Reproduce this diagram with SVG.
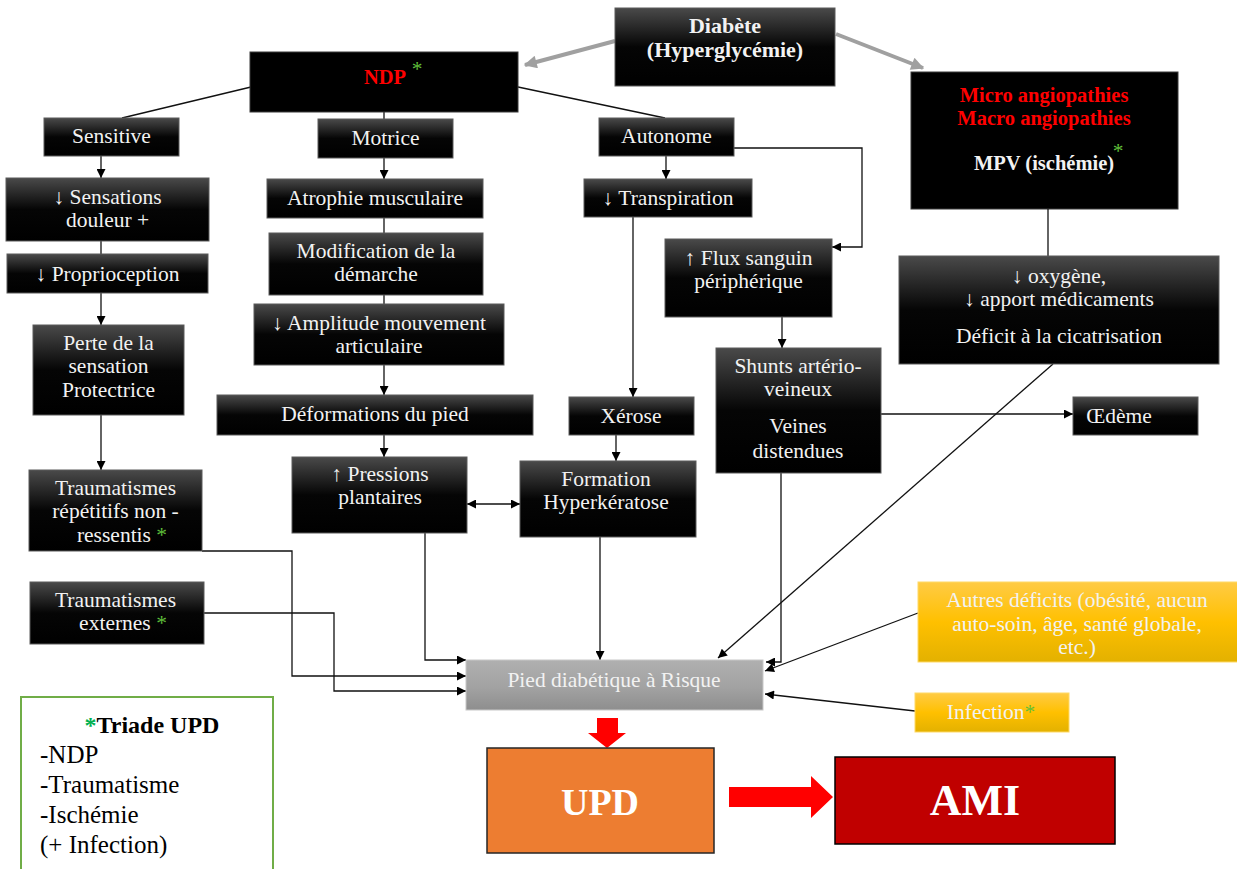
<svg xmlns="http://www.w3.org/2000/svg" width="1237" height="869" viewBox="0 0 1237 869">
<defs>
<linearGradient id="gb" x1="0" y1="0" x2="0" y2="1">
<stop offset="0" stop-color="#4a4a4a"/>
<stop offset="0.5" stop-color="#050505"/>
<stop offset="1" stop-color="#000"/>
</linearGradient>
<linearGradient id="gg" x1="0" y1="0" x2="0" y2="1">
<stop offset="0" stop-color="#b0b0b0"/>
<stop offset="0.55" stop-color="#a2a2a2"/>
<stop offset="1" stop-color="#8e8e8e"/>
</linearGradient>
<linearGradient id="gy" x1="0" y1="0" x2="0" y2="1">
<stop offset="0" stop-color="#ffcb45"/>
<stop offset="0.5" stop-color="#ffc000"/>
<stop offset="1" stop-color="#e3b100"/>
</linearGradient>
<marker id="a" viewBox="0 0 10 10" refX="10" refY="5" markerWidth="10" markerHeight="9" markerUnits="userSpaceOnUse" orient="auto-start-reverse">
<path d="M0,0 L10,5 L0,10 z" fill="#000"/>
</marker>
<marker id="ga" viewBox="0 0 10 10" refX="9" refY="5" markerWidth="15" markerHeight="13" markerUnits="userSpaceOnUse" orient="auto">
<path d="M0,0 L10,5 L0,10 z" fill="#a0a0a0"/>
</marker>
<style>
.bx{fill:url(#gb);stroke:#5a5a5a;stroke-width:1}
.bk{fill:#000;stroke:#3a3a3a;stroke-width:1}
.t{font-size:21.5px;fill:#f2f2f2;text-anchor:middle}
.b{font-weight:bold;font-size:20.5px}
.red{fill:#ff0000}
.st{fill:#5fbf3a}
.c{fill:none;stroke:#111;stroke-width:1.3}
.ca{fill:none;stroke:#111;stroke-width:1.3;marker-end:url(#a)}
.gr{fill:none;stroke:#a0a0a0;stroke-width:4;marker-end:url(#ga)}
.tb{font-size:25px;fill:#000}
</style>
</defs>
<rect width="1237" height="869" fill="#fff"/>

<g id="connectors">
<path class="gr" d="M615,41 L525,65"/>
<path class="gr" d="M836,34 L923,68"/>
<path class="c" d="M251,87 L122,118"/>
<path class="c" d="M384,112 V119"/>
<path class="c" d="M518,87 L665,118"/>
<path class="ca" d="M101,156 V178"/>
<path class="c" d="M101,241 V254"/>
<path class="ca" d="M101,293 V325"/>
<path class="ca" d="M101,415 V470"/>
<path class="ca" d="M384,158 V179"/>
<path class="c" d="M384,218 V233"/>
<path class="c" d="M384,295 V304"/>
<path class="ca" d="M384,365 V395"/>
<path class="ca" d="M384,435 V457"/>
<path class="ca" d="M666,156 V179"/>
<path class="ca" d="M734,148 H862 V247 H832"/>
<path class="ca" d="M633,217 V397"/>
<path class="ca" d="M616,435 V461"/>
<path class="ca" d="M782,317 V348"/>
<path class="ca" d="M881,414 H1073"/>
<path class="ca" d="M467,504 H520" marker-start="url(#a)"/>
<path class="ca" d="M600,537 V660"/>
<path class="ca" d="M425,533 V660 H466"/>
<path class="ca" d="M202,551 H292 V676 H466"/>
<path class="ca" d="M204,613 H334 V691 H466"/>
<path class="ca" d="M781,473 V662 H766"/>
<path class="ca" d="M1053,364 L718,658"/>
<path class="ca" d="M918,613 L765,671"/>
<path class="ca" d="M915,711 L765,694"/>
<polygon points="597,718 618,718 618,733 626,733 607,748 588,733 597,733" fill="#ff0000"/>
<polygon points="729,787 811,787 811,776 833,797 811,818 811,807 729,807" fill="#ff0000"/>
</g>

<g font-family="'Liberation Serif', 'Times New Roman', 'DejaVu Serif', serif">
<g id="diabete">
<rect class="bx" x="615" y="8" width="220" height="78"/>
<text class="t b" x="725" y="33" style="font-size:22px">Diabète</text>
<text class="t b" x="725" y="57" style="font-size:22px">(Hyperglycémie)</text>
</g>

<g id="ndp">
<rect class="bk" x="250" y="52" width="268" height="60"/>
<text class="t b red" x="385" y="84">NDP</text>
<text class="t st" x="417" y="76">*</text>
</g>

<g id="micro">
<rect class="bk" x="911" y="72" width="267" height="137"/>
<text class="t b red" x="1044" y="102">Micro angiopathies</text>
<text class="t b red" x="1044" y="125">Macro angiopathies</text>
<text class="t b" x="1044" y="170">MPV (ischémie)</text>
<text class="t st" x="1118" y="158">*</text>
<path class="c" d="M1048,209 V256"/>
</g>

<g id="oxygene">
<rect class="bx" x="899" y="256" width="320" height="108"/>
<text class="t" x="1059" y="283">↓  oxygène,</text>
<text class="t" x="1059" y="306">↓  apport médicaments</text>
<text class="t" x="1059" y="343">Déficit à la cicatrisation</text>
</g>

<g id="sensitive">
<rect class="bx" x="44" y="118" width="135" height="38"/>
<text class="t" x="111.5" y="143">Sensitive</text>
</g>
<g id="sensations">
<rect class="bx" x="6" y="178" width="203" height="63"/>
<text class="t" x="107.5" y="204">↓ Sensations</text>
<text class="t" x="107.5" y="227">douleur +</text>
</g>
<g id="proprioception">
<rect class="bx" x="7" y="254" width="201" height="39"/>
<text class="t" x="107.5" y="281">↓ Proprioception</text>
</g>
<g id="perte">
<rect class="bx" x="33" y="325" width="151" height="90"/>
<text class="t" x="108.5" y="350">Perte de la</text>
<text class="t" x="108.5" y="373">sensation</text>
<text class="t" x="108.5" y="397">Protectrice</text>
</g>
<g id="trauma-rep">
<rect class="bx" x="29" y="470" width="173" height="81"/>
<text class="t" x="115.5" y="495">Traumatismes</text>
<text class="t" x="115.5" y="518">répétitifs non -</text>
<text class="t" x="122" y="542">ressentis <tspan class="st">*</tspan></text>
</g>
<g id="trauma-ext">
<rect class="bx" x="30" y="582" width="174" height="62"/>
<text class="t" x="115.5" y="607">Traumatismes</text>
<text class="t" x="123" y="630">externes <tspan class="st">*</tspan></text>
</g>

<g id="motrice">
<rect class="bx" x="318" y="119" width="135" height="39"/>
<text class="t" x="385.5" y="145">Motrice</text>
</g>
<g id="atrophie">
<rect class="bx" x="267" y="179" width="216" height="39"/>
<text class="t" x="375" y="205">Atrophie musculaire</text>
</g>
<g id="modification">
<rect class="bx" x="269" y="233" width="214" height="62"/>
<text class="t" x="376" y="258">Modification de la</text>
<text class="t" x="376" y="281">démarche</text>
</g>
<g id="amplitude">
<rect class="bx" x="254" y="304" width="250" height="61"/>
<text class="t" x="379" y="330">↓ Amplitude mouvement</text>
<text class="t" x="379" y="353">articulaire</text>
</g>
<g id="deformations">
<rect class="bx" x="217" y="395" width="316" height="40"/>
<text class="t" x="375" y="421">Déformations du pied</text>
</g>
<g id="pressions">
<rect class="bx" x="292" y="457" width="175" height="76"/>
<text class="t" x="380" y="481">↑ Pressions</text>
<text class="t" x="380" y="504">plantaires</text>
</g>
<g id="formation">
<rect class="bx" x="520" y="461" width="176" height="76"/>
<text class="t" x="606" y="486">Formation</text>
<text class="t" x="606" y="509">Hyperkératose</text>
</g>

<g id="autonome">
<rect class="bx" x="599" y="118" width="135" height="38"/>
<text class="t" x="666.5" y="143">Autonome</text>
</g>
<g id="transpiration">
<rect class="bx" x="584" y="179" width="168" height="38"/>
<text class="t" x="668" y="205">↓ Transpiration</text>
</g>
<g id="flux">
<rect class="bx" x="665" y="239" width="167" height="78"/>
<text class="t" x="748.5" y="265">↑ Flux sanguin</text>
<text class="t" x="748.5" y="288">périphérique</text>
</g>
<g id="shunts">
<rect class="bx" x="716" y="348" width="165" height="125"/>
<text class="t" x="798" y="373">Shunts artério-</text>
<text class="t" x="798" y="396">veineux</text>
<text class="t" x="798" y="433">Veines</text>
<text class="t" x="798" y="458">distendues</text>
</g>
<g id="oedeme">
<rect class="bx" x="1073" y="397" width="125" height="38"/>
<text class="t" x="1119" y="423">Œdème</text>
</g>
<g id="xerose">
<rect class="bx" x="569" y="397" width="125" height="38"/>
<text class="t" x="631" y="423">Xérose</text>
</g>

<g id="pied">
<rect x="466" y="660" width="297" height="50" fill="url(#gg)" stroke="#c8c8c8" stroke-width="1"/>
<text class="t" x="614" y="687">Pied diabétique à Risque</text>
</g>
<g id="autres">
<rect x="918" y="582" width="330" height="80" fill="url(#gy)" stroke="#ffd966" stroke-width="1"/>
<text class="t" x="1077" y="607">Autres déficits (obésité, aucun</text>
<text class="t" x="1077" y="631">auto-soin, âge, santé globale,</text>
<text class="t" x="1077" y="654">etc.)</text>
</g>
<g id="infection">
<rect x="915" y="693" width="154" height="39" fill="url(#gy)" stroke="#ffd966" stroke-width="1"/>
<text class="t" x="991" y="719">Infection<tspan class="st">*</tspan></text>
</g>
<g id="upd">
<rect x="487" y="748" width="227" height="105" fill="#ed7d31" stroke="#262626" stroke-width="1.5"/>
<text class="t b" x="600" y="815" style="font-size:38px;fill:#fff">UPD</text>
</g>
<g id="ami">
<rect x="835" y="757" width="280" height="87" fill="#c00000" stroke="#000" stroke-width="1.5"/>
<text class="t b" x="975" y="815" style="font-size:44px;fill:#fff">AMI</text>
</g>
<g id="triade">
<rect x="21" y="697" width="252" height="185" fill="#fff" stroke="#70ad47" stroke-width="2"/>
<text class="tb" x="152" y="733" text-anchor="middle" style="font-weight:bold;font-size:24px"><tspan fill="#00b050">*</tspan>Triade UPD</text>
<text class="tb" x="40" y="763">-NDP</text>
<text class="tb" x="40" y="793">-Traumatisme</text>
<text class="tb" x="40" y="823">-Ischémie</text>
<text class="tb" x="40" y="853">(+ Infection)</text>
</g>
</g>
</svg>
